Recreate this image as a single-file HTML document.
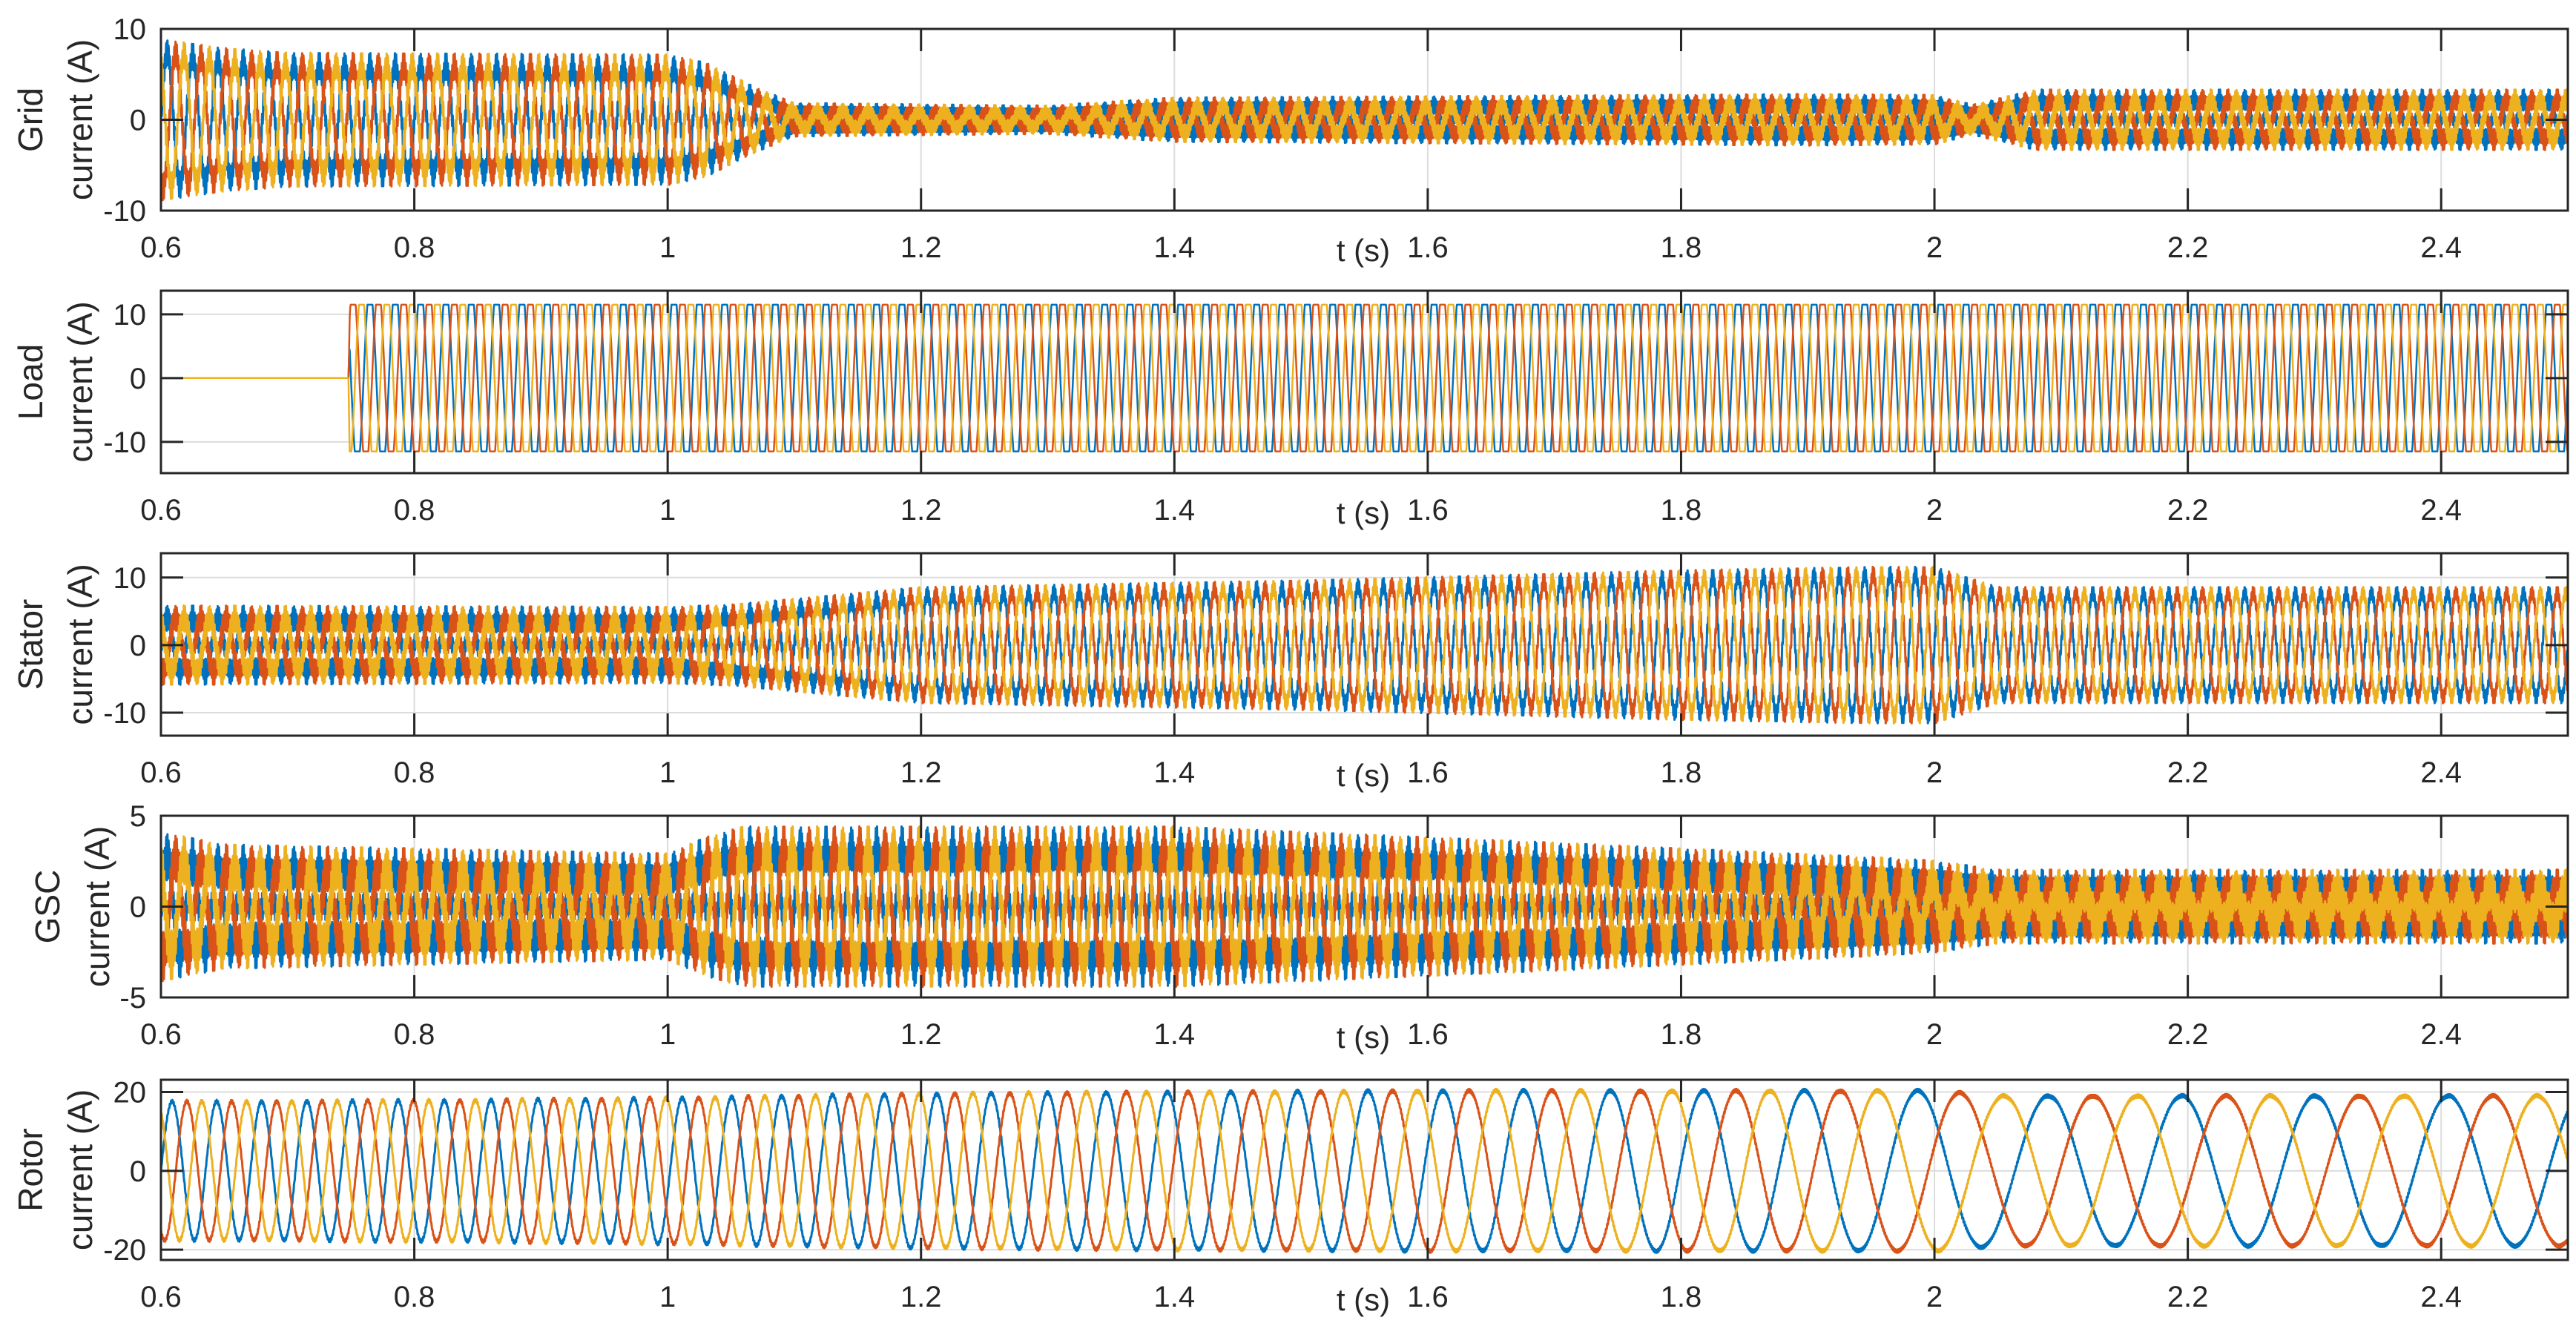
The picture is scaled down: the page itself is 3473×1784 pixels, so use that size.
<!DOCTYPE html>
<html><head><meta charset="utf-8"><title>Currents</title>
<style>
html,body{margin:0;padding:0;background:#fff;}
svg{display:block;font-family:"Liberation Sans",Arial,sans-serif;}
</style></head>
<body>
<svg id="chart" width="3473" height="1784" viewBox="0 0 3473 1784" xmlns="http://www.w3.org/2000/svg"></svg>
<script>
// ---- data ----
const xTickValues=[0.6,0.8,1,1.2,1.4,1.6,1.8,2,2.2,2.4];
const xTickLabels=['0.6','0.8','1','1.2','1.4','1.6','1.8','2','2.2','2.4'];
const panelNames=['grid','load','stator','gsc','rotor'];
const panelLine1=['Grid','Load','Stator','GSC','Rotor'];
const yTicks1=[-10,0,10], yTicks2=[-10,0,10], yTicks3=[-10,0,10], yTicks4=[-5,0,5], yTicks5=[-20,0,20];
const ylim1=[-10,10], ylim2=[-14.9,13.7], ylim3=[-13.4,13.6], ylim4=[-5,5], ylim5=[-22.6,23.1];

const gridTimes=[0.6,0.65,0.7,1.0,1.03,1.07,1.1,1.3,1.4,1.9,2.0,2.03,2.08,2.5];
const gridAmp=[7.5,6.5,6,5.8,5,2.5,1.0,0.8,1.5,1.8,1.7,0.8,2.2,2.2];
const gridRipple=[1.5,1.5,1.5,1.5,1.4,1.1,0.9,0.8,1.0,1.1,1.1,0.9,1.2,1.2];
const gridFreq=[50,50];

const loadTimes=[0.6,0.748,0.749,2.5];
const loadAmp=[0,0,11.5,11.5];
const loadFreq=[50,50];

const statorTimes=[0.6,1.0,1.05,1.2,1.5,1.8,1.95,2.0,2.05,2.5];
const statorAmp=[4,3.8,4.5,7.5,8.5,10,10.5,10.5,7.7,7.7];
const statorRipple=[2,2,1.6,1.2,1.2,1.2,1.2,1.2,1.0,1.0];
const statorFreq=[50,50];

const gscTimes=[0.6,0.65,1.0,1.03,1.06,1.4,1.7,1.95,2.0,2.05,2.5];
const gscAmp=[2.8,2.2,1.8,2.6,3.2,3.2,2.4,1.6,1.4,0.9,0.9];
const gscRipple=[1.4,1.3,1.2,1.3,1.3,1.3,1.2,1.2,1.2,1.2,1.2];
const gscFreq=[50,50];

const rotorTimes=[0.6,0.8,1.0,1.1,1.2,1.3,1.5,1.6,1.7,1.9,2.0,2.05,2.5];
const rotorFreq=[28.5,27.5,26,25,24,22,18.5,16.5,14.7,12,10,9.5,9.5];
const rotorAmp=[17.5,17.8,18.4,19,19.5,19.8,20.1,20.3,20.3,20.3,20.3,19,19];
const rotorRipple=[0.5,0.5,0.5,0.5,0.5,0.5,0.5,0.5,0.5,0.5,0.5,0.5,0.5];

// ---- layout ----
const T0=0.6,T1=2.5,X0=217,X1=3462;
const panelTop=[39,392,746,1100,1456];
const panelBot=[284,638,992,1345,1699];
const ylims=[ylim1,ylim2,ylim3,ylim4,ylim5];
const yticks=[yTicks1,yTicks2,yTicks3,yTicks4,yTicks5];
const colors=['#0072BD','#D95319','#EDB120'];
const phaseNames=['phase-a','phase-b','phase-c'];
const NS='http://www.w3.org/2000/svg';
const svg=document.getElementById('chart');
function xs(t){return X0+(t-T0)/(T1-T0)*(X1-X0);}
function ysFn(i){const [a,b]=ylims[i];return v=>panelBot[i]-(v-a)/(b-a)*(panelBot[i]-panelTop[i]);}
function interp(ts,vs,t){
  if(t<=ts[0])return vs[0];
  for(let i=1;i<ts.length;i++){if(t<=ts[i]){const f=(t-ts[i-1])/(ts[i]-ts[i-1]);return vs[i-1]+f*(vs[i]-vs[i-1]);}}
  return vs[vs.length-1];
}
function mk(tag,attrs,parent){const e=document.createElementNS(NS,tag);for(const k in attrs)e.setAttribute(k,attrs[k]);(parent||svg).appendChild(e);return e;}

const defs=mk('defs',{});
function genSeries(kind,k){
  let times,amp,rip,freqT,freqV,dt;
  if(kind==='grid'){times=gridTimes;amp=gridAmp;rip=gridRipple;freqT=null;freqV=gridFreq;dt=1/6000;}
  if(kind==='load'){times=loadTimes;amp=loadAmp;rip=null;freqT=null;freqV=loadFreq;dt=1/4000;}
  if(kind==='stator'){times=statorTimes;amp=statorAmp;rip=statorRipple;freqT=null;freqV=statorFreq;dt=1/6000;}
  if(kind==='gsc'){times=gscTimes;amp=gscAmp;rip=gscRipple;freqT=null;freqV=gscFreq;dt=1/6000;}
  if(kind==='rotor'){times=rotorTimes;amp=rotorAmp;rip=rotorRipple;freqT=rotorTimes;freqV=rotorFreq;dt=1/3000;}
  const pts=[];let ph=0;const sh=k*2*Math.PI/3;
  for(let t=T0;t<=T1+1e-9;t+=dt){
    const f=freqT?interp(freqT,freqV,t):freqV[0];
    const A=interp(times,amp,t);
    let v;
    if(kind==='load'){
      const s=Math.sin(ph-sh);
      v=A*Math.max(-1,Math.min(1,1.25*s));
    }else{
      v=A*Math.sin(ph-sh);
      if(rip){const R=interp(times,rip,t);
        v+=R*Math.sin(2*Math.PI*1030*t+k*2.1)*(0.6+0.4*Math.abs(Math.sin(3*(ph-sh))));}
    }
    pts.push([t,v]);
    ph+=2*Math.PI*f*dt;
  }
  return pts;
}

for(let i=0;i<5;i++){
  const ys=ysFn(i);const top=panelTop[i],bot=panelBot[i];
  const g=mk('g',{});
  
  
  const cp=mk('clipPath',{id:'clip'+i},defs);
  mk('rect',{x:X0,y:top,width:X1-X0,height:bot-top},cp);
  const gg=mk('g',{stroke:'#dcdcdc','stroke-width':2},g);
  
  
  xTickValues.forEach(t=>{mk('line',{x1:xs(t),x2:xs(t),y1:top,y2:bot},gg);});
  yticks[i].forEach(v=>{mk('line',{x1:X0,x2:X1,y1:ys(v),y2:ys(v)},gg);});
  const sg=mk('g',{'clip-path':'url(#clip'+i+')',fill:'none','stroke-width':(i===1?2.5:3),'stroke-linejoin':'round'},g);
  for(let k=0;k<3;k++){
    const pts=genSeries(panelNames[i],k);
    let d='';for(let j=0;j<pts.length;j++){d+=(j?'L':'M')+xs(pts[j][0]).toFixed(1)+' '+ys(pts[j][1]).toFixed(1);}
    const p=mk('path',{d:d,stroke:colors[k]},sg);
    
    
  }
  const ax=mk('g',{stroke:'#262626','stroke-width':3,fill:'none'},g);
  
  
  mk('rect',{x:X0,y:top,width:X1-X0,height:bot-top},ax);
  xTickValues.forEach(t=>{mk('line',{x1:xs(t),x2:xs(t),y1:bot,y2:bot-30},ax);mk('line',{x1:xs(t),x2:xs(t),y1:top,y2:top+30},ax);});
  yticks[i].forEach(v=>{mk('line',{x1:X0,x2:X0+30,y1:ys(v),y2:ys(v)},ax);mk('line',{x1:X1,x2:X1-30,y1:ys(v),y2:ys(v)},ax);});
  xTickValues.forEach((t,j)=>{
    const tx=mk('text',{x:xs(t),y:bot+63,'font-size':40,'text-anchor':'middle',fill:'#262626'},g);
    tx.textContent=xTickLabels[j];
    
    
  });
  yticks[i].forEach(v=>{
    const ty=mk('text',{x:197,y:ys(v)+14,'font-size':40,'text-anchor':'end',fill:'#262626'},g);
    ty.textContent=String(v);
    
    
  });
  const xt=mk('text',{x:1838,y:bot+68,'font-size':42,'text-anchor':'middle',fill:'#262626'},g);
  xt.textContent='t (s)';
  
  
  const cy=(top+bot)/2;const sx=(i===3)?23:0;
  const yl=mk('text',{transform:'translate('+(57+sx)+','+cy+') rotate(-90)','font-size':46,'text-anchor':'middle',fill:'#262626'},g);
  yl.textContent=panelLine1[i];
  
  
  const yl2=mk('text',{transform:'translate('+(124+sx)+','+cy+') rotate(-90)','font-size':46,'text-anchor':'middle',fill:'#262626'},g);
  yl2.textContent='current (A)';
  
  
}
</script>
</body></html>
